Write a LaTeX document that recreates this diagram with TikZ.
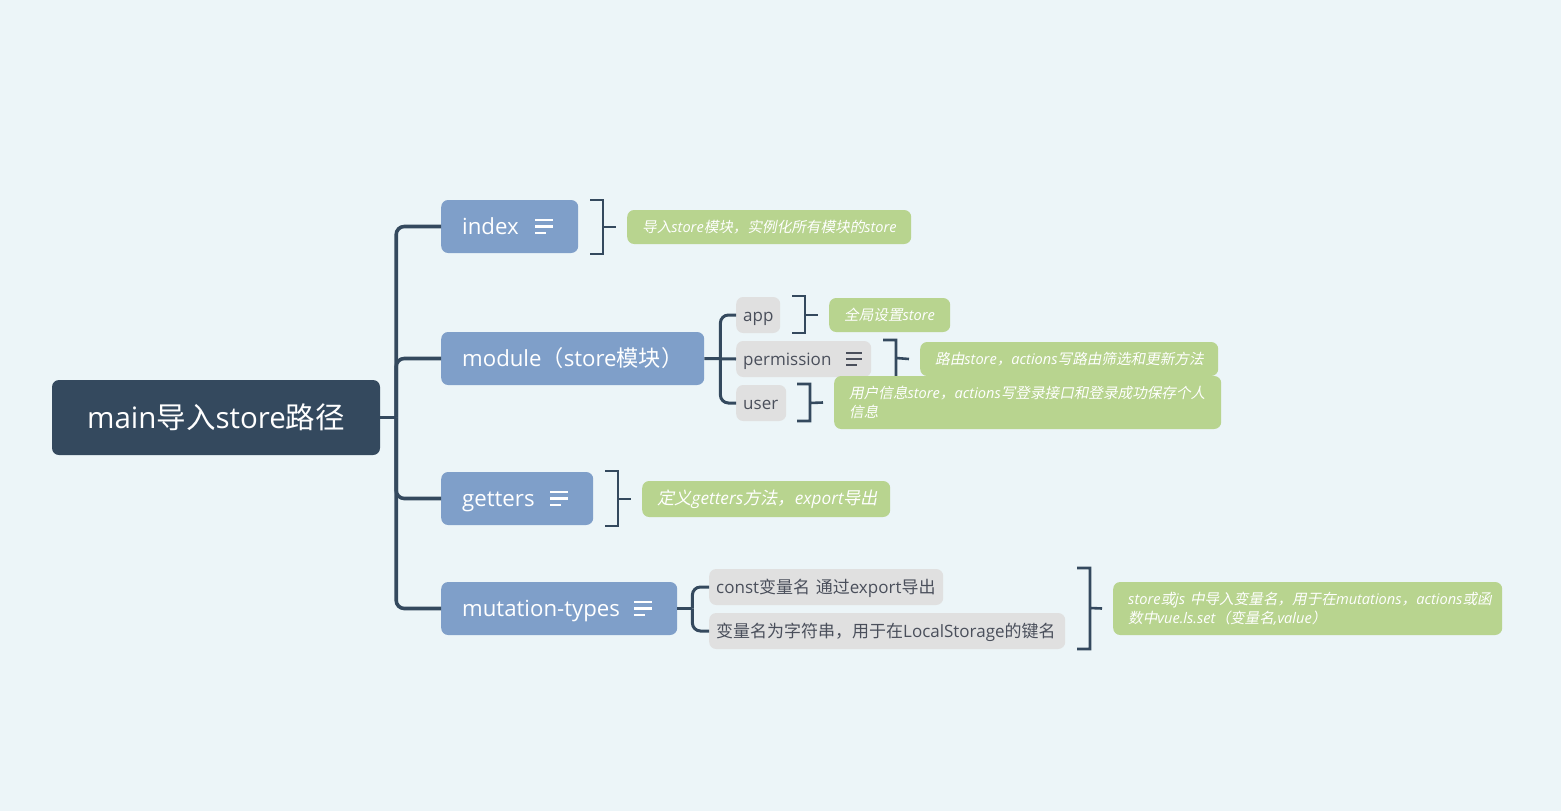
\documentclass[tikz,border=0pt]{standalone}
\usepackage{fontspec}
\setmainfont{Open Sans}
\newfontfamily\cjk{Noto Sans CJK SC}
\newfontfamily\cjkslant[FakeSlant=.2]{Noto Sans CJK SC}
\newcommand{\cn}[1]{{\cjk #1}}
\newcommand{\cns}[1]{{\cjkslant #1}}
\definecolor{bgblue}{HTML}{ECF5F8}
\definecolor{rootblue}{HTML}{34495E}
\definecolor{topicblue}{HTML}{7F9FC9}
\definecolor{leafgrey}{HTML}{E0E0E0}
\definecolor{leaftext}{HTML}{4A4F5B}
\definecolor{remarkgreen}{HTML}{B8D48F}
\tikzset{
  rootbox/.style={fill=rootblue,text=white,rounded corners=7,minimum width=328,minimum height=75,font=\fontsize{29.5}{34}\selectfont},
  topicbox/.style={fill=topicblue,text=white,rounded corners=7,anchor=west,inner xsep=21,inner ysep=0,minimum height=53,align=left,text width=#1,text height=19,text depth=4,font=\fontsize{22.2}{26}\selectfont},
  leafbox/.style={fill=leafgrey,text=leaftext,rounded corners=7,anchor=west,inner xsep=7,inner ysep=0,minimum height=36,align=left,text width=#1,text height=15.5,text depth=2.5,font=\fontsize{17}{22}\selectfont},
  remarkbox/.style={fill=remarkgreen,text=white,rounded corners=7,anchor=west,inner xsep=15,inner ysep=0,minimum height=34,align=left,text width=#1,font=\itshape\fontsize{14.6}{19}\selectfont},
  mainlink/.style={draw=rootblue,line width=3.6,rounded corners=8},
  leaflink/.style={draw=rootblue,line width=3,rounded corners=8},
  bracket/.style={draw=rootblue,line width=2.6},
  menuwhite/.style={draw=white,line width=2.2},
  menugrey/.style={draw=leaftext,line width=2}
}
\begin{document}
\begin{tikzpicture}[x=1pt,y=-1pt]
  \useasboundingbox (0,0) rectangle (1561,811);
  \fill[bgblue] (0,0) rectangle (1561,811);
  % root and first level
  \node[rootbox] (root) at (216,417.5) {main\cn{导入}store\cn{路径}};
  \node[topicbox=95] (index) at (441,226.5) {index};
  \node[topicbox=221] (module) at (441,358.5) {module\cn{（}store\cn{模块）}};
  \node[topicbox=110] (getters) at (441,498.5) {getters};
  \node[topicbox=194] (mutation) at (441,608.5) {mutation-types};
  \coordinate (rootfork) at ([xshift=16]root.east);
  \draw[mainlink] (root.east) -- (rootfork);
  \draw[mainlink] (rootfork) |- (index.west);
  \draw[mainlink] (rootfork) |- (module.west);
  \draw[mainlink] (rootfork) |- (getters.west);
  \draw[mainlink] (rootfork) |- (mutation.west);
  \draw[menuwhite] (535,220) -- (553,220) (535,226.5) -- (553,226.5) (535,233) -- (546,233);% index
  \draw[menuwhite] (550,492) -- (568,492) (550,498.5) -- (568,498.5) (550,505) -- (561,505);% getters
  \draw[menuwhite] (634,602) -- (652,602) (634,608.5) -- (652,608.5) (634,615) -- (645,615);% mutation-types
  % second level
  \node[leafbox=30] (app) at (736,315) {app};
  \node[leafbox=121] (permission) at (736,359) {permission};
  \node[leafbox=36] (user) at (736,403) {user};
  \node[leafbox=220] (const) at (709,587) {const\cn{变量名~通过}export\cn{导出}};
  \node[leafbox=342] (keyname) at (709,631) {\cn{变量名为字符串，用于在}LocalStorage\cn{的键名}};
  \coordinate (modulefork) at ([xshift=16]module.east);
  \coordinate (mutationfork) at ([xshift=15]mutation.east);
  \draw[leaflink] (module.east) -- (permission.west);
  \draw[leaflink] (modulefork) |- (app.west);
  \draw[leaflink] (modulefork) |- (user.west);
  \draw[leaflink] (mutation.east) -- (mutationfork);
  \draw[leaflink] (mutationfork) |- (const.west);
  \draw[leaflink] (mutationfork) |- (keyname.west);
  \draw[menugrey] (846,352.5) -- (862,352.5) (846,358.5) -- (862,358.5) (846,364.5) -- (857,364.5);% permission
  % remarks
  \node[remarkbox=254] (indexnote) at (627,227) {\cns{导入}store\cns{模块，实例化所有模块的}store};
  \node[remarkbox=91] (appnote) at (829,315) {\cns{全局设置}store};
  \node[remarkbox=268] (permissionnote) at (920,359) {\cns{路由}store\cns{，}actions\cns{写路由筛选和更新方法}};
  \node[remarkbox=218,minimum height=36,font=\itshape\fontsize{17.2}{21}\selectfont] (gettersnote) at (642,499) {\cns{定义}getters\cns{方法，}export\cns{导出}};
  \coordinate (indexmark) at (603,227);
  \coordinate (appmark) at (805,315);
  \coordinate (permissionmark) at (896,358);
  \coordinate (usermark) at (810,403);
  \coordinate (gettersmark) at (618,499);
  \coordinate (mutationmark) at (1090,608);
  \draw[bracket] (590,200) -| (603,254) -- (590,254) (indexmark) -- ([xshift=-11]indexnote.west);
  \draw[bracket] (792,296) -| (805,333) -- (792,333) (appmark) -- ([xshift=-11]appnote.west);
  \draw[bracket] (883,340) -| (896,378) -- (883,378) (permissionmark) -- ([xshift=-11]permissionnote.west);
  \draw[bracket] (605,471) -| (618,526) -- (605,526) (gettersmark) -- ([xshift=-11]gettersnote.west);
  \node[remarkbox=357,minimum height=53] (usernote) at (834,402.5) {\cns{用户信息}store\cns{，}actions\cns{写登录接口和登录成功保存个人}\\\cns{信息}};
  \node[remarkbox=359,minimum height=53] (mutationnote) at (1113,608.5) {store\cns{或}js \cns{中导入变量名，用于在}mutations\cns{，}actions\cns{或函}\\\cns{数中}vue.ls.set\cns{（变量名}{,}value\cns{）}};
  \draw[bracket] (797,384) -| (810,421) -- (797,421) (usermark) -- ([xshift=-11]usernote.west);
  \draw[bracket] (1077,568) -| (1090,649) -- (1077,649) (mutationmark) -- ([xshift=-11]mutationnote.west);
\end{tikzpicture}
\end{document}
